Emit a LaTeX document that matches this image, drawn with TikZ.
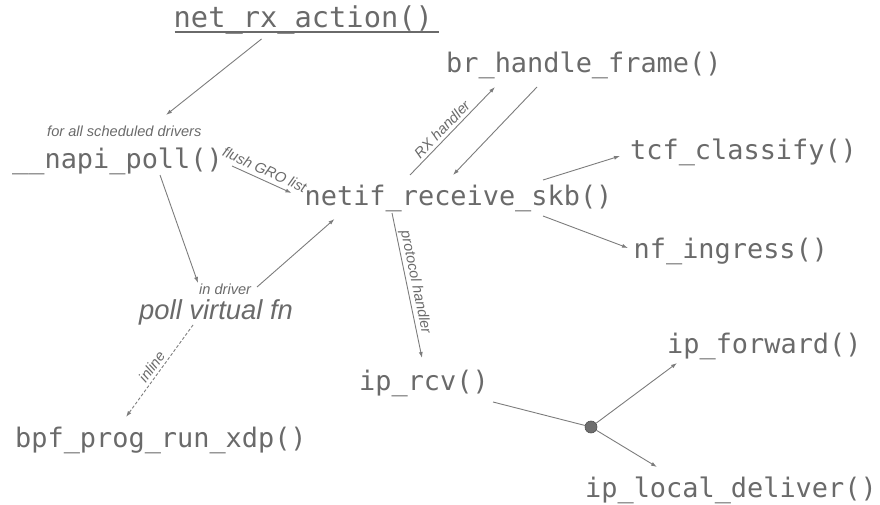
\documentclass[tikz,border=0pt]{standalone}
\usepackage{fontspec}
\newfontfamily\codefont{DejaVu Sans Mono}
\newfontfamily\notefont{Liberation Sans}
\usetikzlibrary{arrows.meta}
\definecolor{ink}{HTML}{6A6A6A}
\definecolor{wire}{HTML}{7C7C7C}
\definecolor{dotfill}{HTML}{6E6E6E}
\definecolor{dotline}{HTML}{505050}

\begin{document}
\begin{tikzpicture}[x=1pt,y=-1pt,
  fn/.style={inner sep=0pt, anchor=base west, text=ink,
    font=\codefont\fontsize{26.9}{30}\selectfont},
  bigfn/.style={fn, font=\codefont\fontsize{28.7}{32}\selectfont},
  stage/.style={inner sep=0pt, anchor=base west, text=ink,
    font=\notefont\itshape\fontsize{27.4}{30}\selectfont},
  note/.style={inner sep=0pt, text=ink,
    font=\notefont\itshape\fontsize{14.6}{16}\selectfont},
  arr/.style={draw=wire, line width=0.9pt, -{Latex[length=6pt,width=4pt]}},
  junction/.style={circle, fill=dotfill, draw=dotline, line width=0.6pt,
    minimum size=12pt, inner sep=0pt}
]
\useasboundingbox (0,0) rectangle (880,505);

% function names
\node[bigfn] (rx)    at (173.5,28) {net\_rx\_action()};
\node[fn]    (napi)  at (12,168)   {\_\_napi\_poll()};
\node[fn]    (netif) at (304.5,205) {netif\_receive\_skb()};
\node[fn]    (br)    at (446,73)   {br\_handle\_frame()};
\node[fn]    (tcf)   at (630,160)  {tcf\_classify()};
\node[fn]    (nf)    at (633.5,258) {nf\_ingress()};
\node[fn]    (iprcv) at (359,390)  {ip\_rcv()};
\node[fn]    (ipfwd) at (667,353)  {ip\_forward()};
\node[fn]    (ipld)  at (585,497)  {ip\_local\_deliver()};
\node[fn]    (bpf)   at (15,447)   {bpf\_prog\_run\_xdp()};
\node[stage] (poll)  at (139,319)  {poll virtual fn};
\node[junction] (dot) at (591,427) {};

% side notes
\node[note, anchor=base west] (sched) at (47,137)  {for all scheduled drivers};
\node[note, anchor=base west] (drv)   at (199,294) {in driver};

% underline of the entry point
\draw[draw=ink, line width=2pt]
  ([shift={(1,4)}]rx.base west) -- ([shift={(6,4)}]rx.base east);

% call flow
\draw[arr] ([shift={(88,11)}]rx.base west) -- ([shift={(154,-53)}]napi.base west);
\draw[arr] ([shift={(220,-2)}]napi.base west)
  -- node[note, sloped, above=4.5pt, pos=0.48] (gro) {flush GRO list}
  ([shift={(-13,-12)}]netif.base west);
\draw[arr] ([shift={(148,7)}]napi.base west) -- ([shift={(59,-36)}]poll.base west);
\draw[arr] ([shift={(118,-32)}]poll.base west) -- ([shift={(30,14)}]netif.base west);
\draw[arr, dash pattern=on 3pt off 2pt] ([shift={(54,6)}]poll.base west)
  -- node[note, sloped, above=3pt, pos=0.51] (inl) {inline}
  ([shift={(111,-30)}]bpf.base west);

\draw[arr] ([shift={(105.5,-30)}]netif.base west)
  -- node[note, sloped, above=3pt, pos=0.45] (rxh) {RX handler}
  ([shift={(49,14)}]br.base west);
\draw[arr] ([shift={(91,14)}]br.base west) -- ([shift={(148.5,-30)}]netif.base west);
\draw[arr] ([shift={(238.5,-25)}]netif.base west) -- ([shift={(-10,-4)}]tcf.base west);
\draw[arr] ([shift={(238.5,11)}]netif.base west) -- ([shift={(-5.5,-10)}]nf.base west);
\draw[arr] ([shift={(87.5,8)}]netif.base west)
  -- node[note, sloped, above=1.5pt, pos=0.49] (proto) {protocol handler}
  ([shift={(63,-32)}]iprcv.base west);

\draw[draw=wire, line width=0.9pt] ([shift={(134,12)}]iprcv.base west) -- (dot);
\draw[arr] (dot) -- ([shift={(10,10)}]ipfwd.base west);
\draw[arr] (dot) -- ([shift={(72,-30)}]ipld.base west);
\end{tikzpicture}
\end{document}
